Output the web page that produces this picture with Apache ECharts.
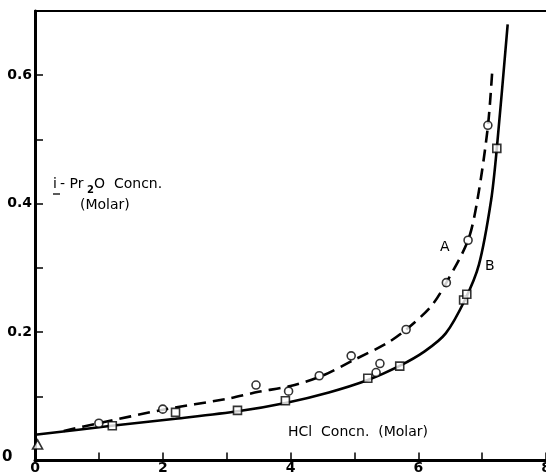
<!DOCTYPE html>
<html>
<head>
<meta charset="utf-8">
<script src="https://cdn.jsdelivr.net/npm/echarts@6/dist/echarts.min.js"></script>
<style>html,body{margin:0;padding:0;background:#fff;overflow:hidden;width:546px;height:474px;}#c{width:546px;height:474px;}</style>
</head>
<body>
<div id="c"></div>
<script>
// Data
const curveA = [[0.45,0.046],[1.0,0.058],[2.0,0.079],[3.0,0.096],[3.5,0.107],[4.0,0.116],[4.5,0.132],[5.0,0.157],[5.5,0.182],[5.8,0.203],[6.2,0.240],[6.44,0.277],[6.78,0.343],[6.93,0.408],[7.09,0.520],[7.16,0.609]];
const curveB = [[0,0.040],[1.2,0.054],[2.2,0.065],[3.2,0.077],[3.94,0.090],[4.6,0.106],[5.2,0.125],[5.7,0.147],[6.1,0.170],[6.43,0.198],[6.73,0.250],[6.95,0.305],[7.14,0.405],[7.23,0.486],[7.40,0.679]];
const circlesA = [[1.00,0.058],[2.0,0.080],[3.46,0.1175],[3.97,0.108],[4.45,0.132],[4.95,0.163],[5.34,0.137],[5.40,0.151],[5.81,0.204],[6.44,0.277],[6.78,0.343],[7.09,0.522]];
const squaresB = [[1.21,0.054],[2.20,0.075],[3.17,0.078],[3.92,0.093],[5.21,0.128],[5.71,0.147],[6.71,0.250],[6.76,0.259],[7.23,0.486]];
const triangle = [[0.04,0.025]];
const xTickLabels = {0:'0',2:'2',4:'4',6:'6',8:'8'};
const yTickLabels = {2:'0.2',4:'0.4',6:'0.6'};

const chart = echarts.init(document.getElementById('c'), null, {width:546, height:474});
const font = 'DejaVu Sans';
const mk = {color:'#fff', borderColor:'#000', borderWidth:1.6};
chart.setOption({
  animation:false,
  backgroundColor:'#fff',
  grid:{left:35, right:0, top:11, bottom:13.5, show:false, containLabel:false, outerBoundsMode:'none'},
  xAxis:[{
    type:'value', min:0, max:8, interval:1,
    axisLine:{show:true, onZero:false, lineStyle:{color:'#000', width:3}},
    axisTick:{show:true, inside:true, length:8, lineStyle:{color:'#000', width:1.5}},
    splitLine:{show:false},
    axisLabel:{show:true, margin:1, color:'#000', fontFamily:font, fontSize:14, fontWeight:'bold',
      formatter:v=>{const k=Math.round(v); return xTickLabels[k]!==undefined?xTickLabels[k]:'';}}
  },{
    type:'value', position:'top', min:0, max:8,
    axisLine:{show:true, onZero:false, lineStyle:{color:'#000', width:2}},
    axisTick:{show:false}, axisLabel:{show:false}, splitLine:{show:false}
  }],
  yAxis:[{
    type:'value', min:0, max:0.7, interval:0.1,
    axisLine:{show:true, onZero:false, lineStyle:{color:'#000', width:3}},
    axisTick:{show:true, inside:true, length:8, lineStyle:{color:'#000', width:1.5}},
    splitLine:{show:false},
    axisLabel:{show:true, margin:3, color:'#000', fontFamily:font, fontSize:14, fontWeight:'bold', showMaxLabel:false,
      formatter:v=>{const k=Math.round(v*10); return yTickLabels[k]!==undefined?yTickLabels[k]:'';}}
  },{
    type:'value', position:'right', min:0, max:0.7,
    axisLine:{show:true, onZero:false, lineStyle:{color:'#999', width:1, type:'dashed'}},
    axisTick:{show:false}, axisLabel:{show:false}, splitLine:{show:false}
  }],
  series:[
    {type:'line', data:curveA, smooth:0.3, showSymbol:false, z:2,
      lineStyle:{color:'#000', width:2.6, type:[12,7]}},
    {type:'line', data:curveB, smooth:0.3, showSymbol:false, z:2,
      lineStyle:{color:'#000', width:2.6}},
    {type:'scatter', data:circlesA, symbol:'circle', symbolSize:8, itemStyle:mk, z:3},
    {type:'scatter', data:squaresB, symbol:'rect', symbolSize:8, itemStyle:mk, z:3},
    {type:'scatter', data:triangle, symbol:'triangle', symbolSize:[10,9], itemStyle:mk, z:3}
  ],
  graphic:[
    {type:'text', left:2, top:450, style:{text:'0', font:'bold 15px '+font, fill:'#000'}},
    {type:'text', left:53, top:177, style:{text:'i', font:'14px '+font, fill:'#000'}},
    {type:'line', shape:{x1:53, y1:194, x2:60, y2:194}, style:{stroke:'#000', lineWidth:1.3}},
    {type:'text', left:60, top:177, style:{text:'- Pr', font:'14px '+font, fill:'#000'}},
    {type:'text', left:87, top:185, style:{text:'2', font:'bold 10px '+font, fill:'#000'}},
    {type:'text', left:94, top:177, style:{text:'O  Concn.', font:'14px '+font, fill:'#000'}},
    {type:'text', left:80, top:198, style:{text:'(Molar)', font:'14px '+font, fill:'#000'}},
    {type:'text', left:288, top:425, style:{text:'HCl  Concn.  (Molar)', font:'14px '+font, fill:'#000'}},
    {type:'text', left:440, top:240, style:{text:'A', font:'14px '+font, fill:'#000'}},
    {type:'text', left:485, top:259, style:{text:'B', font:'14px '+font, fill:'#000'}}
  ]
});
</script>
</body>
</html>
